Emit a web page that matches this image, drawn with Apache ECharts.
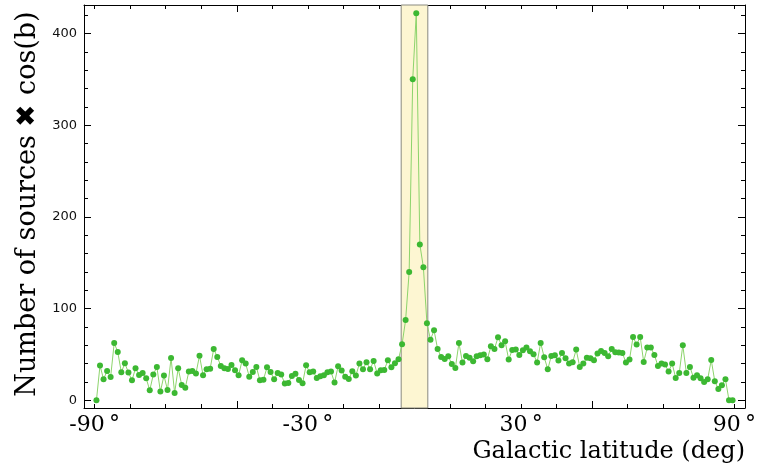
<!DOCTYPE html>
<html>
<head>
<meta charset="utf-8">
<script src="https://cdn.jsdelivr.net/npm/echarts@6/dist/echarts.min.js"></script>
<style>html,body{margin:0;padding:0;background:#fff}#c{width:760px;height:470px}</style>
</head>
<body>
<div id="c"></div>
<script>
// Histogram: 1-degree bins from -90 to 90 (values at bin centres)
const latStart = -90;
const binWidth = 1;
const counts = [
  0, 38, 23, 32, 25.5, 62.5, 52.7, 30.5, 40.4, 30.2, 21.8, 34.9, 27.6, 29.8, 24, 10.9, 28, 36.4, 9.5, 26.9, 11.3, 46.2, 8, 34.9, 16.7, 13.8, 31.3, 32,
  29.1, 48.7, 27.3, 33.8, 34.5, 56, 47.3, 37.5, 34.9, 34.2, 38.5, 32.7, 27.3, 43.6, 40, 25.8, 30.9, 36.4, 21.8, 22.5, 36, 30.9, 22.9, 29.8, 28, 18.2, 18.9, 26.5, 28.9, 22,
  18.5, 38.2, 30.5, 31.3, 24.4, 26.2, 27.3, 30.5, 31.3, 19.3, 37.1, 32.4, 25.8, 23.3, 31.6, 26.9, 40, 33.8, 41.5, 33.8, 42.9, 29.1, 32.7, 33.1, 43.6, 36, 40.4, 44.7, 61, 87.5,
  140, 350, 422, 170, 145, 84, 66, 76.4,
  56, 47.3, 45.1, 48, 39.6, 35.3, 62.5, 41.1, 48.4, 46.5, 42.5, 48, 49.1, 49.8, 44.7, 58.9, 56, 68.7, 60, 64.4, 44.4, 54.9, 55.3, 49.5, 54.5, 57.5, 53.5, 50.2, 41.1, 62.5,
  46.9, 33.8, 48.4, 49.1, 43.3, 51.6, 45.8, 40, 41.5, 55.3, 36.4, 40, 46.5, 45.8, 43.6, 50.9, 53.8, 51.6, 48, 56, 52.4, 52, 51.6, 41.1, 44.4, 69.1, 60.7, 69.1, 41.8,
  57.5, 57.5, 49.5, 37.5, 40, 38.9, 31.3, 40, 24.4, 29.8, 60, 29.8, 36.4, 24.7, 27.3, 24, 20, 22.9, 44, 20.7, 12.4, 16.4, 22.9, 0, 0
];
const band = [-3.75, 3.75];
const xLabelTicks = [-90, -30, 30, 90];
const xMinorTicks = [-90, -80, -70, -60, -40, -30, -20, -10, 10, 20, 30, 40, 60, 70, 80, 90];
const xMajorTicks = [-50, 0, 50];
const yLabelTicks = [0, 100, 200, 300, 400];
const yMinorTicks = [20, 40, 60, 80, 120, 140, 160, 180, 220, 240, 260, 280, 320, 340, 360, 380, 420];
const xTitle = 'Galactic latitude (deg)';
const yTitle = 'Number of sources \u2716 cos(b)';

const points = counts.map((v, i) => [latStart + (i + 0.5) * binWidth, v]);

const chart = echarts.init(document.getElementById('c'), null, {renderer: 'canvas'});
const X = {type: 'value', min: -93, max: 93, splitLine: {show: false}};
const Y = {type: 'value', min: -8.4, max: 431, splitLine: {show: false}};
const lineOn = {show: true, onZero: false, lineStyle: {color: '#000', width: 1}};
const lineOff = {show: false, onZero: false};
function tick(vals, len) {
  return {show: true, inside: true, length: len, customValues: vals, lineStyle: {color: '#000', width: 1}};
}
chart.setOption({
  animation: false,
  grid: {left: 84, right: 15, top: 5, bottom: 62},
  xAxis: [
    Object.assign({}, X, {position: 'bottom', axisLine: lineOn, axisTick: tick(xMinorTicks, 4),
      axisLabel: {customValues: xLabelTicks, formatter: v => v + '\u2009°', fontFamily: 'DejaVu Serif', fontSize: 22, color: '#000', margin: 6}}),
    Object.assign({}, X, {position: 'bottom', axisLine: lineOff, axisTick: tick(xMajorTicks, 7), axisLabel: {show: false}}),
    Object.assign({}, X, {position: 'top', axisLine: lineOn, axisTick: tick(xMinorTicks, 4), axisLabel: {show: false}}),
    Object.assign({}, X, {position: 'top', axisLine: lineOff, axisTick: tick(xMajorTicks, 7), axisLabel: {show: false}})
  ],
  yAxis: [
    Object.assign({}, Y, {position: 'left', axisLine: lineOn, axisTick: tick(yMinorTicks, 4),
      axisLabel: {customValues: yLabelTicks, fontFamily: 'DejaVu Sans', fontSize: 13, color: '#111', margin: 7}}),
    Object.assign({}, Y, {position: 'left', axisLine: lineOff, axisTick: tick(yLabelTicks, 7), axisLabel: {show: false}}),
    Object.assign({}, Y, {position: 'right', axisLine: lineOn, axisTick: tick(yMinorTicks, 4), axisLabel: {show: false}}),
    Object.assign({}, Y, {position: 'right', axisLine: lineOff, axisTick: tick(yLabelTicks, 7), axisLabel: {show: false}})
  ],
  series: [{
    type: 'line',
    xAxisIndex: 0, yAxisIndex: 0,
    data: points,
    symbol: 'circle', symbolSize: 6,
    itemStyle: {color: '#3cb832'},
    lineStyle: {color: '#8dd46c', width: 1},
    z: 5,
    markArea: {
      silent: true,
      itemStyle: {color: '#fdf6d2', borderColor: '#8a8a80', borderWidth: 1},
      data: [[{xAxis: band[0]}, {xAxis: band[1]}]]
    }
  }],
  graphic: [
    {type: 'text', right: 15, top: 440,
      style: {text: xTitle, font: '24px "DejaVu Serif"', fill: '#000'}},
    {type: 'text', x: 28, y: 204, rotation: Math.PI / 2,
      style: {text: yTitle, font: '27px "DejaVu Serif"', fill: '#000', align: 'center', verticalAlign: 'middle'}}
  ]
});
</script>
</body>
</html>
